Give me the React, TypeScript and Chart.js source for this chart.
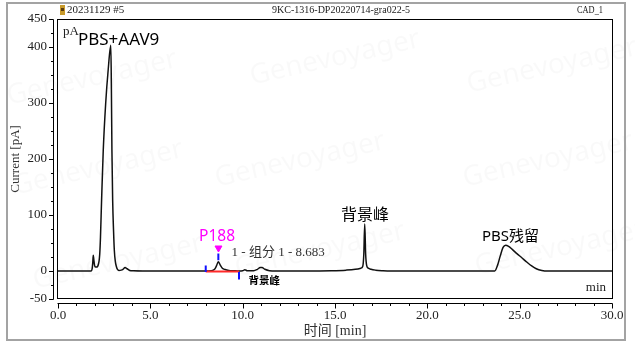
import React, { useEffect, useRef } from "react";
import { Chart, registerables } from "chart.js";

Chart.register(...registerables);

// ---- data ----
const timeMin = [
  0, 1.8, 1.85, 1.88, 1.91, 1.94, 1.98, 2.03, 2.1, 2.17, 2.22, 2.26, 2.3, 2.36, 2.45, 2.58, 2.72, 2.86,
  2.89, 2.92, 2.96, 3.01, 3.05, 3.1, 3.16, 3.22, 3.3, 3.42, 3.52, 3.63, 3.74, 3.88, 4.1, 4.6,
  7.95, 8.3, 8.48, 8.58, 8.68, 8.78, 8.9, 9.05, 9.25, 9.5, 9.8, 10.0, 10.12, 10.25, 10.6, 10.8,
  10.95, 11.05, 11.2, 11.45, 11.8, 13.5, 14.8, 15.6, 16.1, 16.4, 16.5, 16.56, 16.61, 16.66, 16.72,
  16.8, 16.95, 17.2, 17.6, 18.0, 23.65, 23.8, 23.95, 24.1, 24.24, 24.4, 24.6, 24.85, 25.1, 25.4,
  25.65, 25.9, 26.2, 26.5, 30.0,
];
const currentPA = [
  0, 0, 4, 14, 28, 20, 10, 7, 7, 10, 17, 30, 60, 126, 215, 298, 360, 403,
  330, 215, 126, 70, 37, 18, 8, 3, 1, 1.5, 3, 6, 4, 1, 0.3, 0,
  0, 0.5, 3, 9, 16.5, 11, 5, 2.5, 1, 0.5, 0, 0.5, 2, 0.5, 0.5, 3,
  6, 6, 3, 0.5, 0, 0, 0.5, 1.5, 3, 5, 8, 30, 84, 30, 9,
  5, 3, 1.5, 0.5, 0, 0, 10, 27, 42, 46, 44, 38.5, 31, 24, 15.5,
  9, 4, 1, 0, 0,
];

// integration baseline of peak "P188" (red)
const baselineTimes = [8.0, 9.8];
const baselineValues = [-1, -1];

// blue integration markers: time, top, bottom (pA)
const markerTimes = [8.0, 8.683, 9.8];
const markerTops = [10, 31, -2];
const markerBottoms = [-2, 19, -15];

// magenta peak marker
const peakMarkTime = [8.69];
const peakMarkValue = [41];

const yLabelledTicks = [450, 400, 300, 200, 100, 0, -50];
const xLabelledTicks = [0, 5, 10, 15, 20, 25, 30];

const SERIF = "'Liberation Serif', 'Times New Roman', 'Noto Sans CJK SC', serif";
const SANS = "'Noto Sans', 'Noto Sans CJK SC', sans-serif";
const CJK = "'Noto Sans CJK SC', 'Noto Sans', sans-serif";

const decoPlugin = {
  id: "deco",
  beforeDraw(chart: any) {
    const { ctx, width, height } = chart;
    ctx.save();
    ctx.fillStyle = "#ffffff";
    ctx.fillRect(0, 0, width, height);
    // very faint watermarks
    const marks = [
      [92, 78], [335, 58], [552, 66],
      [98, 168], [300, 160], [548, 160],
      [118, 262], [320, 250], [560, 248],
    ];
    ctx.font = `28px ${SANS}`;
    ctx.fillStyle = "rgba(0,0,0,0.022)";
    ctx.textAlign = "center";
    ctx.textBaseline = "middle";
    for (const [mx, my] of marks) {
      ctx.save();
      ctx.translate(mx, my);
      ctx.rotate(-0.22);
      ctx.fillText("Genevoyager", 0, 0);
      ctx.restore();
    }
    // outer frame
    ctx.strokeStyle = "#a3a3a3";
    ctx.lineWidth = 2;
    ctx.strokeRect(7, 3, 618, 337);
    ctx.restore();
  },
  afterDraw(chart: any) {
    const { ctx, chartArea: ca } = chart;
    const xs = chart.scales.x;
    const ys = chart.scales.y;
    ctx.save();
    // plot box
    ctx.strokeStyle = "#000";
    ctx.lineWidth = 1;
    const L = Math.round(ca.left) - 0.5;
    const T = Math.round(ca.top) + 0.5;
    const R = Math.round(ca.right) + 0.5;
    const B = Math.round(ca.bottom) - 0.5;
    ctx.strokeRect(L, T, R - L, B - T);

    // y axis line + ticks (offset left of the box)
    const ax = 53.5;
    ctx.beginPath();
    ctx.moveTo(ax, Math.round(ys.getPixelForValue(450)) + 0.5);
    ctx.lineTo(ax, Math.round(ys.getPixelForValue(-50)) + 0.5);
    for (let v = -50; v <= 450; v += 25) {
      const py = Math.round(ys.getPixelForValue(v)) + 0.5;
      const len = yLabelledTicks.includes(v) ? 4.5 : 2.5;
      ctx.moveTo(ax - len, py);
      ctx.lineTo(ax, py);
    }
    ctx.stroke();

    // x axis line + ticks (offset below the box)
    const ay = 303.5;
    ctx.beginPath();
    ctx.moveTo(Math.round(xs.getPixelForValue(0)) - 0.5, ay);
    ctx.lineTo(Math.round(xs.getPixelForValue(30)) + 0.5, ay);
    for (let v = 0; v <= 30; v += 1) {
      const px = Math.round(xs.getPixelForValue(v)) + 0.5;
      const len = xLabelledTicks.includes(v) ? 5 : 2.5;
      ctx.moveTo(px, ay);
      ctx.lineTo(px, ay + len);
    }
    ctx.stroke();

    // header
    ctx.fillStyle = "#c89a2a";
    ctx.fillRect(60, 5, 5, 10);
    ctx.fillStyle = "#5a3a10";
    ctx.fillRect(61, 8, 3, 3);
    ctx.fillStyle = "#222";
    ctx.font = `11px ${SERIF}`;
    ctx.textBaseline = "middle";
    ctx.textAlign = "left";
    ctx.fillText("20231129 #5", 67, 10.5, 58);
    ctx.textAlign = "center";
    ctx.fillText("9KC-1316-DP20220714-gra022-5", 341, 10.5, 138);
    ctx.textAlign = "right";
    ctx.fillText("CAD_1", 603, 10.5, 26);

    // unit inside plot
    ctx.textAlign = "left";
    ctx.font = `13px ${SERIF}`;
    ctx.fillStyle = "#222";
    ctx.fillText("pA", ca.left + 5, ca.top + 13);
    ctx.textAlign = "right";
    ctx.fillText("min", ca.right - 6, ca.bottom - 11.5);

    // annotations anchored on data coordinates
    const note = (text: string, t: number, v: number, font: string, color: string) => {
      ctx.font = font;
      ctx.fillStyle = color;
      ctx.textAlign = "left";
      ctx.textBaseline = "middle";
      ctx.fillText(text, xs.getPixelForValue(t), ys.getPixelForValue(v));
    };
    note("PBS+AAV9", 1.08, 412, `17px ${SANS}`, "#000");
    note("P188", 7.64, 61, `15.5px ${SANS}`, "#ff00ff");
    note("1 - 组分 1 - 8.683", 9.4, 32, `13px ${SERIF}`, "#333");
    note("背景峰", 10.32, -16.5, `bold 10.5px ${CJK}`, "#000");
    note("背景峰", 15.33, 101, `16px ${CJK}`, "#000");
    note("PBS残留", 22.96, 61, `15px ${SANS}`, "#000");
    ctx.restore();
  },
};

export default function App() {
  const ref = useRef<HTMLCanvasElement>(null);
  useEffect(() => {
    const trace = timeMin.map((t, i) => ({ x: t, y: currentPA[i] }));
    const baseline = baselineTimes.map((t, i) => ({ x: t, y: baselineValues[i] }));
    const markerSets = markerTimes.map((t, i) => ({
      data: [{ x: t, y: markerTops[i] }, { x: t, y: markerBottoms[i] }],
      borderColor: "#1010ff",
      borderWidth: 2,
      pointRadius: 0,
    }));
    const chart = new Chart(ref.current as HTMLCanvasElement, {
      type: "line",
      data: {
        datasets: [
          {
            data: peakMarkTime.map((t, i) => ({ x: t, y: peakMarkValue[i] })),
            showLine: false,
            pointStyle: "triangle",
            rotation: 180,
            pointRadius: 4,
            backgroundColor: "#ff00ff",
            borderColor: "#ff00ff",
            borderWidth: 1,
          } as any,
          ...markerSets,
          {
            data: baseline,
            borderColor: "#ff2a2a",
            borderWidth: 2,
            pointRadius: 0,
          },
          {
            data: trace,
            borderColor: "#111",
            borderWidth: 1.5,
            pointRadius: 0,
            cubicInterpolationMode: "monotone",
          },
        ],
      },
      options: {
        responsive: false,
        animation: false,
        events: [],
        layout: { padding: { left: 0, right: 23, top: 18, bottom: 0 } },
        plugins: {
          legend: { display: false },
          tooltip: { enabled: false },
          title: { display: false },
        },
        scales: {
          x: {
            type: "linear",
            min: 0,
            max: 30,
            afterFit: (s: any) => {
              s.height = 54;
            },
            grid: { display: false, drawTicks: false },
            border: { display: false },
            ticks: {
              stepSize: 1,
              autoSkip: false,
              maxRotation: 0,
              minRotation: 0,
              padding: 9,
              color: "#222",
              font: { family: SERIF, size: 13 },
              callback: (v: any) => (xLabelledTicks.includes(Number(v)) ? Number(v).toFixed(1) : ""),
            },
            title: {
              display: true,
              text: "时间 [min]",
              color: "#333",
              font: { family: SERIF, size: 14, lineHeight: 1.2 },
              padding: { top: 0, bottom: 13.6 },
            },
          },
          y: {
            type: "linear",
            min: -50,
            max: 450,
            afterFit: (s: any) => {
              s.width = 58;
            },
            grid: { display: false, drawTicks: false },
            border: { display: false },
            ticks: {
              stepSize: 25,
              autoSkip: false,
              padding: 11,
              color: "#222",
              font: { family: SERIF, size: 13 },
              callback: (v: any) => (yLabelledTicks.includes(Number(v)) ? String(v) : ""),
            },
            title: {
              display: true,
              text: "Current [pA]",
              color: "#333",
              font: { family: SERIF, size: 13, lineHeight: 1.2 },
              padding: { top: 8, bottom: 0 },
            },
          },
        },
      },
      plugins: [decoPlugin],
    });
    return () => chart.destroy();
  }, []);
  return (
    <div style={{ position: "fixed", left: 0, top: 0, width: 635, height: 353, background: "#fff" }}>
      <canvas ref={ref} width={635} height={353} style={{ display: "block", width: 635, height: 353 }} />
    </div>
  );
}
